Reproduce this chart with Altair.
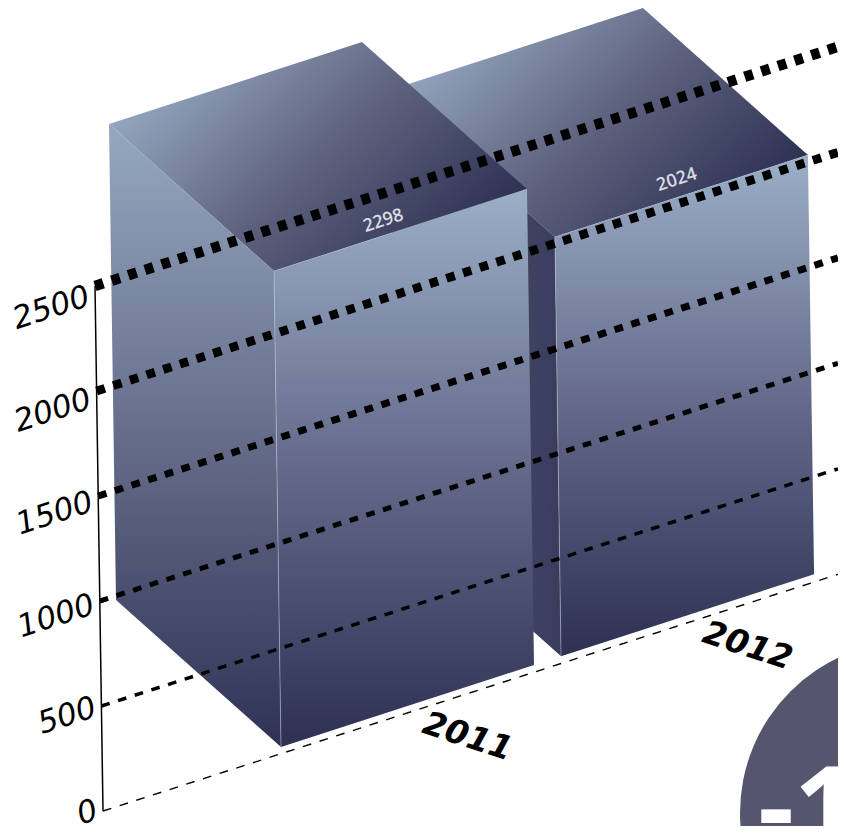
import altair as alt
import pandas as pd

# ---- values ----
YEARS = ["2011", "2012"]
VALUES = [2298, 2024]
TICKS = [0, 500, 1000, 1500, 2000, 2500]
TICK_WIDTHS = [1.4, 3.5, 5, 7, 8.8, 10.5]
CHANGE_LABEL = "-1"

# ---- oblique projection of (bar slot, depth, value) to the page ----
ORIGIN = (281.0, 747.0)
SLOT = (253.0, -82.0)
SLOT_STEP = 1.107
DEPTH = (-165.0, -147.0)
RISE = (-0.00305, -0.2071)
AXIS_ORIGIN = (103.0, 811.0)
AXIS_RISE = (-0.0032, -0.21)
FLOOR_SLOPE = -0.322
XMIN, XMAX, YMIN, YMAX = 8, 838, 8, 826


def proj(slot, depth, value):
    return (
        ORIGIN[0] + slot * SLOT[0] + depth * DEPTH[0] + value * RISE[0],
        ORIGIN[1] + slot * SLOT[1] + depth * DEPTH[1] + value * RISE[1],
    )


def axis_pt(v):
    return (AXIS_ORIGIN[0] + v * AXIS_RISE[0], AXIS_ORIGIN[1] + v * AXIS_RISE[1])


def poly_frame(points):
    """Convex polygon -> upper and lower envelope rows for an area mark."""
    n = len(points)
    rows = []
    for px in sorted({p[0] for p in points}):
        ys = []
        for i in range(n):
            a, b = points[i], points[(i + 1) % n]
            lo, hi = min(a[0], b[0]), max(a[0], b[0])
            if lo <= px <= hi:
                if a[0] == b[0]:
                    ys += [a[1], b[1]]
                else:
                    ys.append(a[1] + (b[1] - a[1]) * (px - a[0]) / (b[0] - a[0]))
        rows.append({"x": px, "y": min(ys), "y2": max(ys)})
    return pd.DataFrame(rows)


X = alt.X("x:Q", scale=alt.Scale(domain=[XMIN, XMAX], nice=False, zero=False), axis=None)
Y = alt.Y("y:Q", scale=alt.Scale(domain=[YMAX, YMIN], nice=False, zero=False), axis=None)


def grad(stops, x1=0, y1=0, x2=0, y2=1):
    return alt.Gradient(
        gradient="linear",
        x1=x1, y1=y1, x2=x2, y2=y2,
        stops=[alt.GradientStop(color=c, offset=o) for o, c in stops],
    )


FRONT = grad([(0, "#9bafc7"), (0.5, "#64698a"), (1, "#2d3052")])
LEFT = grad([(0, "#95a8c0"), (0.6, "#5c6180"), (1, "#2f3254")])
TOP = grad([(0, "#96a9c2"), (0.5, "#5f637f"), (1, "#2d3052")], x1=0.02, y1=0.28, x2=0.92, y2=0.8)
SIDE = grad([(0, "#585a7a"), (1, "#3a3c5d")], x1=0, y1=0, x2=1, y2=0)


def face(points, fill):
    return alt.Chart(poly_frame(points)).mark_area(color=fill, orient="vertical", clip=True).encode(
        x=X, y=Y, y2=alt.Y2("y2:Q")
    )


def seg(a, b, color, width, dash=None, opacity=1.0):
    df = pd.DataFrame({"x": [a[0], b[0]], "y": [a[1], b[1]]})
    kw = {"strokeDash": dash} if dash else {}
    return alt.Chart(df).mark_line(
        color=color, strokeWidth=width, opacity=opacity, clip=True, strokeCap="butt", **kw
    ).encode(x=X, y=Y)


def bar_faces(i, v):
    s0 = i * SLOT_STEP
    s1 = s0 + 1
    fbl, fbr, ftl, ftr = proj(s0, 0, 0), proj(s1, 0, 0), proj(s0, 0, v), proj(s1, 0, v)
    bbl, btl, btr = proj(s0, 1, 0), proj(s0, 1, v), proj(s1, 1, v)
    return fbl, fbr, ftl, ftr, bbl, btl, btr


layers = []

# circle behind everything
circle = pd.DataFrame({"x": [912], "y": [813]})
layers.append(
    alt.Chart(circle).mark_point(filled=True, color="#55566e", opacity=1, clip=True, size=4 * 172 ** 2).encode(x=X, y=Y)
)
layers.append(
    alt.Chart(pd.DataFrame({"x": [758], "y": [846], "t": [CHANGE_LABEL]})).mark_text(
        color="white", font="Open Sans", fontWeight="bold", fontSize=112, align="left", baseline="alphabetic", clip=True
    ).encode(x=X, y=Y, text="t:N")
)

# bars, back one first
label_shift = {0: (-17, -9), 1: (-4.5, -16)}
for i in reversed(range(len(VALUES))):
    v = VALUES[i]
    fbl, fbr, ftl, ftr, bbl, btl, btr = bar_faces(i, v)
    layers.append(face([btl, btr, ftr, ftl], TOP))
    layers.append(face([btl, ftl, fbl, bbl], LEFT if i == 0 else SIDE))
    layers.append(face([ftl, ftr, fbr, fbl], FRONT))
    layers.append(seg(ftl, fbl, "#c3cedc", 0.8, opacity=0.6))
    layers.append(seg(ftl, ftr, "#b6c3d4", 0.6, opacity=0.6))
    # value label on the top face
    lx = (ftl[0] + ftr[0]) / 2 + label_shift[i][0]
    ly = (ftl[1] + ftr[1]) / 2 + label_shift[i][1]
    layers.append(
        alt.Chart(pd.DataFrame({"x": [lx], "y": [ly], "t": [str(v)]})).mark_text(
            color="#d8dbe2", font="Open Sans", fontWeight=600, fontSize=18, angle=342, align="center", baseline="middle"
        ).encode(x=X, y=Y, text="t:N")
    )

# value axis and dashed grid lines
layers.append(seg(axis_pt(0), axis_pt(TICKS[-1]), "#000000", 1.5))
for t, w in zip(TICKS, TICK_WIDTHS):
    a = axis_pt(t)
    b = (XMAX, a[1] + FLOOR_SLOPE * (XMAX - a[0]))
    layers.append(seg(a, b, "#000000", w, dash=[8.7, 8.8]))

# tick labels
tick_df = pd.DataFrame(
    {
        "x": [axis_pt(t)[0] - 6 for t in TICKS],
        "y": [axis_pt(t)[1] - 1 + t * 0.0045 for t in TICKS],
        "t": [str(t) for t in TICKS],
    }
)
layers.append(
    alt.Chart(tick_df).mark_text(
        font="DejaVu Sans", fontStyle="italic", fontSize=31, angle=342, align="right", baseline="middle", color="#000000"
    ).encode(x=X, y=Y, text="t:N")
)

# year labels under the bars
yr_rows = []
for i, y in enumerate(YEARS):
    s0 = i * SLOT_STEP
    p = proj(s0 + 0.5, 0, 0)
    yr_rows.append({"x": p[0] + 60, "y": p[1] + 31, "t": y})
layers.append(
    alt.Chart(pd.DataFrame(yr_rows)).mark_text(
        font="DejaVu Sans", fontStyle="italic", fontWeight="bold", fontSize=33, angle=18, align="center", baseline="middle", color="#000000"
    ).encode(x=X, y=Y, text="t:N")
)

chart = (
    alt.layer(*layers)
    .properties(width=XMAX - XMIN, height=YMAX - YMIN, padding=0, autosize=alt.AutoSizeParams(type="none"), background="white")
    .configure_view(stroke=None)
)
chart.save("out.html", embed_options={"renderer": "svg", "actions": False})
